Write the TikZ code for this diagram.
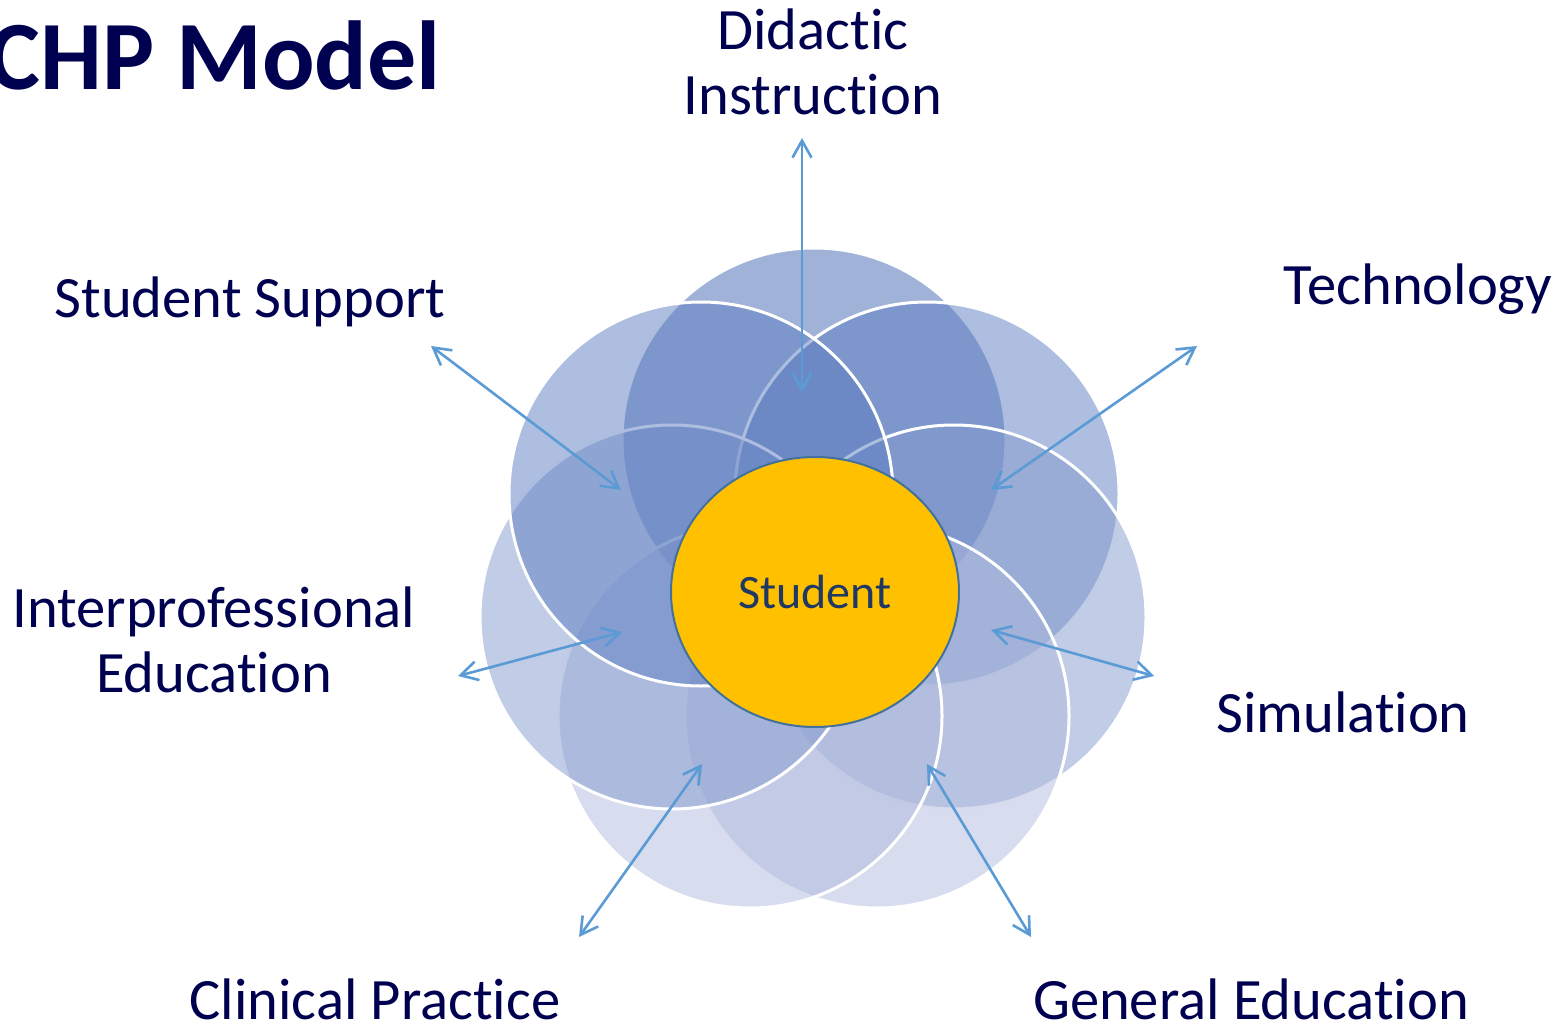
\documentclass[tikz,border=0pt]{standalone}
\usepackage{fontspec}
\setmainfont{Carlito}[Ligatures={NoCommon}]
\usetikzlibrary{shapes.geometric,arrows.meta}
\definecolor{navy}{RGB}{0,0,80}
\definecolor{studtext}{RGB}{31,56,100}
\definecolor{gold}{RGB}{255,192,0}
\definecolor{ellline}{RGB}{65,113,156}
\definecolor{arrblue}{RGB}{91,155,213}
\definecolor{cA}{RGB}{65,101,177}
\definecolor{cB}{RGB}{93,125,193}
\definecolor{cC}{RGB}{131,155,205}
\definecolor{cD}{RGB}{175,185,221}
\tikzset{
  petal/.style={circle, minimum size=192pt, inner sep=0pt, draw=white, line width=1.5pt, fill opacity=0.5, draw opacity=1},
  lbl/.style={text=navy, font=\fontsize{29.3pt}{32.5pt}\selectfont, align=center, inner sep=0pt},
  twoway/.style={draw=arrblue, line width=1.3pt, {Straight Barb[length=8.5pt,width=9.5pt]}-{Straight Barb[length=8.5pt,width=9.5pt]}}
}
\begin{document}
\begin{tikzpicture}[x=0.5pt,y=-0.5pt]
\useasboundingbox (0,0) rectangle (1566,1026);
% petals, drawn in SmartArt order
\node[petal, fill=cA] (pDid) at (814,440) {};
\node[petal, fill=cB] (pTech) at (927,494) {};
\node[petal, fill=cC] (pSim) at (954,617) {};
\node[petal, fill=cD] (pGen) at (877,716) {};
\node[petal, fill=cD] (pClin) at (750,716) {};
\node[petal, fill=cC] (pInter) at (672,617) {};
\node[petal, fill=cB] (pSupp) at (701,494) {};
% centre
\node[ellipse, minimum width=144pt, minimum height=135pt, inner sep=0pt, fill=gold, draw=ellline, line width=1pt,
      text=studtext, font=\fontsize{24pt}{28pt}\selectfont] (stud) at (815,592) {Student};
% title
\node[anchor=base west, inner sep=0pt, text=navy, font=\fontsize{49pt}{55pt}\bfseries] (title) at (-12,90) {CHP Model};
% labels
\node[lbl] (lDid) at (813,62) {Didactic\\Instruction};
\node[lbl, anchor=base] (lTech) at (1418,305) {Technology};
\node[lbl, anchor=base] (lSupp) at (250,318) {Student Support};
\node[lbl] (lInter) at (214,640) {Interprofessional\\Education};
\node[lbl, anchor=base] (lSim) at (1343,732) {Simulation};
\node[lbl, anchor=base] (lClin) at (375,1019) {Clinical Practice};
\node[lbl, anchor=base] (lGen) at (1251,1019) {General Education};
% arrow end points
\coordinate (aDidO) at (802,138);   \coordinate (aDidI) at (802,392);
\coordinate (aSuppO) at (431,346);  \coordinate (aSuppI) at (621,490);
\coordinate (aTechO) at (1197,346); \coordinate (aTechI) at (991,490);
\coordinate (aInterO) at (458,676); \coordinate (aInterI) at (622,632);
\coordinate (aSimO) at (1154,676);  \coordinate (aSimI) at (991,630);
\coordinate (aClinO) at (579,937);  \coordinate (aClinI) at (702,764);
\coordinate (aGenO) at (1031,937);  \coordinate (aGenI) at (927,764);
\draw[twoway] (aDidO) -- (aDidI);
\draw[twoway] (aSuppO) -- (aSuppI);
\draw[twoway] (aTechO) -- (aTechI);
\draw[twoway] (aInterO) -- (aInterI);
\draw[twoway] (aSimO) -- (aSimI);
\draw[twoway] (aClinO) -- (aClinI);
\draw[twoway] (aGenO) -- (aGenI);
\end{tikzpicture}
\end{document}
